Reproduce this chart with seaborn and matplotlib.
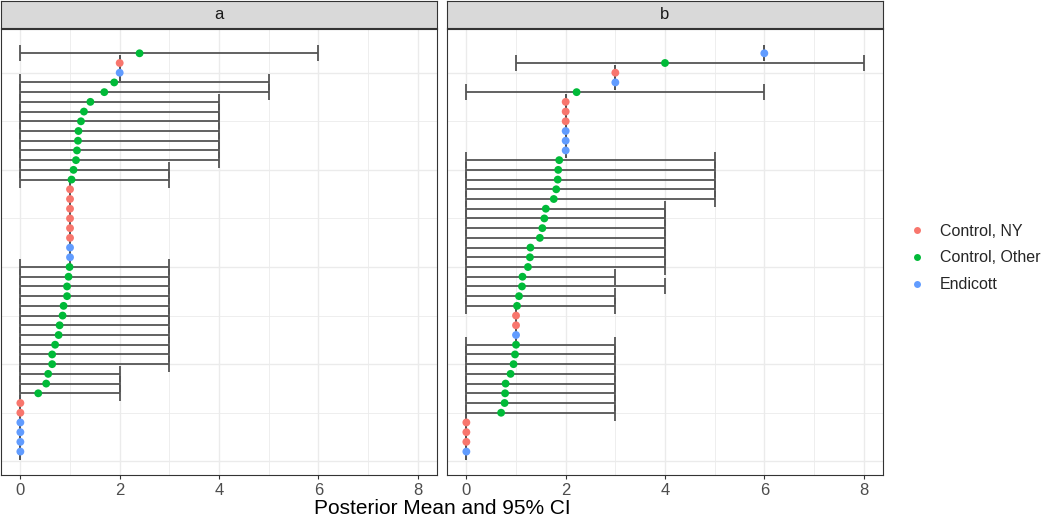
import pandas as pd
import matplotlib
matplotlib.use("Agg")
import matplotlib.pyplot as plt
from matplotlib.lines import Line2D
from matplotlib.ticker import MultipleLocator
import seaborn as sns

# groups, posterior means and 95% CI, listed top to bottom
group_names = ["Control, NY", "Control, Other", "Endicott"]
group_colors = ["#F8766D", "#00BA38", "#619CFF"]
panel_names = ["a", "b"]

group_a = ["Control, Other", "Control, NY", "Endicott"] + \
    ["Control, Other"] * 11 + ["Control, NY"] * 6 + ["Endicott"] * 2 + \
    ["Control, Other"] * 14 + ["Control, NY"] * 2 + ["Endicott"] * 4
mean_a = [2.40, 2, 2,
          1.89, 1.69, 1.41, 1.28, 1.22, 1.17, 1.16, 1.14, 1.12, 1.07, 1.03,
          1, 1, 1, 1, 1, 1, 1, 1,
          0.99, 0.97, 0.94, 0.94, 0.87, 0.85, 0.79, 0.77, 0.70, 0.64, 0.64, 0.56, 0.52, 0.36,
          0, 0, 0, 0, 0, 0]
lo_a = [0, 2, 2,
        0, 0, 0, 0, 0, 0, 0, 0, 0, 0, 0,
        1, 1, 1, 1, 1, 1, 1, 1,
        0, 0, 0, 0, 0, 0, 0, 0, 0, 0, 0, 0, 0, 0,
        0, 0, 0, 0, 0, 0]
hi_a = [6, 2, 2,
        5, 5, 4, 4, 4, 4, 4, 4, 4, 3, 3,
        1, 1, 1, 1, 1, 1, 1, 1,
        3, 3, 3, 3, 3, 3, 3, 3, 3, 3, 3, 2, 2, 2,
        0, 0, 0, 0, 0, 0]

group_b = ["Endicott", "Control, Other", "Control, NY", "Endicott", "Control, Other"] + \
    ["Control, NY"] * 3 + ["Endicott"] * 3 + ["Control, Other"] * 16 + \
    ["Control, NY"] * 2 + ["Endicott"] + ["Control, Other"] * 8 + \
    ["Control, NY"] * 3 + ["Endicott"]
mean_b = [6, 4.0, 3, 3, 2.22,
          2, 2, 2, 2, 2, 2,
          1.87, 1.85, 1.84, 1.81, 1.76, 1.60, 1.57, 1.53, 1.48, 1.29, 1.28, 1.24, 1.13, 1.12, 1.06, 1.02,
          1, 1, 1,
          1.00, 0.98, 0.95, 0.89, 0.79, 0.78, 0.77, 0.70,
          0, 0, 0, 0]
lo_b = [6, 1, 3, 3, 0,
        2, 2, 2, 2, 2, 2,
        0, 0, 0, 0, 0, 0, 0, 0, 0, 0, 0, 0, 0, 0, 0, 0,
        1, 1, 1,
        0, 0, 0, 0, 0, 0, 0, 0,
        0, 0, 0, 0]
hi_b = [6, 8, 3, 3, 6,
        2, 2, 2, 2, 2, 2,
        5, 5, 5, 5, 5, 4, 4, 4, 4, 4, 4, 4, 3, 4, 3, 3,
        1, 1, 1,
        3, 3, 3, 3, 3, 3, 3, 3,
        0, 0, 0, 0]

sns.set_theme(style="white")
plt.rcParams['font.family'] = ['Liberation Sans', 'DejaVu Sans']

fig = plt.figure(figsize=(10.5, 5.19), dpi=100)
W, H = 1050, 519
panel_lefts = [1, 447]
panel_w = 436
top_px, bot_px = 29, 475

palette = dict(zip(group_names, group_colors))

for k, (name, grp, mean, lo, hi) in enumerate([
        ("a", group_a, mean_a, lo_a, hi_a),
        ("b", group_b, mean_b, lo_b, hi_b)]):
    df = pd.DataFrame({"group": grp, "mean": mean, "lo": lo, "hi": hi})
    df["pos"] = range(len(df), 0, -1)

    left = panel_lefts[k] / W
    ax = fig.add_axes([left, 1 - bot_px / H, panel_w / W, (bot_px - top_px) / H])
    ax.errorbar(df["mean"], df["pos"],
                xerr=[df["mean"] - df["lo"], df["hi"] - df["mean"]],
                fmt="none", ecolor="#555555", elinewidth=1.3, capsize=5.5,
                capthick=1.3, zorder=2)
    sns.scatterplot(data=df, x="mean", y="pos", hue="group", hue_order=group_names,
                    palette=palette, s=32, linewidth=0, legend=False, ax=ax, zorder=3)

    ax.set_xlim(-0.39, 8.39)
    ax.set_ylim(-1.41, 44.5)
    ax.xaxis.set_major_locator(MultipleLocator(2))
    ax.xaxis.set_minor_locator(MultipleLocator(1))
    ax.yaxis.set_major_locator(MultipleLocator(10))
    ax.yaxis.set_minor_locator(MultipleLocator(5))
    ax.grid(which="major", color="#EBEBEB", lw=1.0)
    ax.grid(which="minor", color="#EBEBEB", lw=0.6)
    ax.set_axisbelow(True)
    ax.set_xlabel("")
    ax.set_ylabel("")
    ax.set_yticklabels([])
    ax.tick_params(axis="y", which="both", left=False, length=0)
    ax.tick_params(axis="x", which="major", bottom=True, length=3, width=0.8,
                   color="#333333", labelcolor="#4D4D4D", labelsize=12, pad=3)
    ax.tick_params(axis="x", which="minor", bottom=False)
    for sp in ax.spines.values():
        sp.set_color("#333333")
        sp.set_linewidth(0.8)

    # facet strip
    sax = fig.add_axes([left, 1 - 28 / H, panel_w / W, 27 / H])
    sax.set_facecolor("#D9D9D9")
    sax.set_xticks([])
    sax.set_yticks([])
    for sp in sax.spines.values():
        sp.set_color("#333333")
        sp.set_linewidth(0.8)
    sax.text(0.5, 0.5, name, ha="center", va="center", fontsize=12,
             color="#1A1A1A", transform=sax.transAxes)

fig.text(442 / W, 1 - 509 / H, "Posterior Mean and 95% CI", ha="center",
         va="center", fontsize=15, color="black")

handles = [Line2D([], [], marker="o", linestyle="", markersize=5,
                  markerfacecolor=c, markeredgewidth=0) for c in group_colors]
fig.legend(handles, group_names, loc="center left",
           bbox_to_anchor=(903 / W, 1 - 258 / H), frameon=False, fontsize=11.5,
           handletextpad=0.8, labelspacing=0.75, handlelength=1.2,
           borderaxespad=0, borderpad=0.3)

fig.savefig("out.png", dpi=100)
